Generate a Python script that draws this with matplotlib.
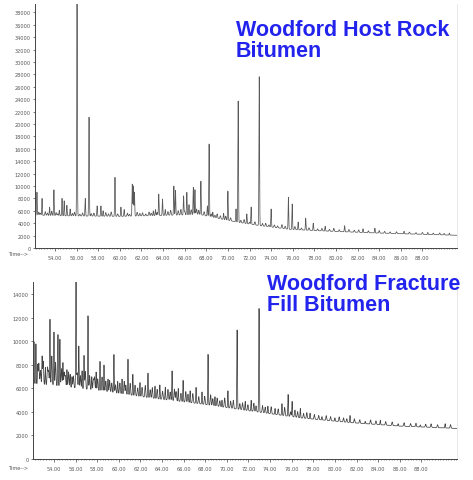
import numpy as np
import matplotlib
matplotlib.use("Agg")
import matplotlib.pyplot as plt
from matplotlib.ticker import MultipleLocator, FuncFormatter

# ---------------- Host rock bitumen (upper trace) ----------------
host_base_t = [52.15, 54.5, 60.0, 63.7, 67.4, 69.3, 71.1, 73.0, 75.8, 79.5, 84.1, 91.2]
host_base_v = [5300, 5200, 5100, 5250, 5400, 4700, 4100, 3600, 3000, 2700, 2400, 2050]

host_peak_t = [52.33, 52.8, 53.5, 53.9, 54.4, 54.65, 54.85, 55.1, 55.4, 56.04,
               56.8, 57.15, 57.9, 58.25, 58.45, 59.55, 60.1, 60.4, 61.15, 61.25,
               61.35, 63.1, 63.3, 63.6, 63.95, 64.2, 65.0, 65.15, 65.9, 66.2,
               66.4, 66.8, 66.95, 67.5, 68.1, 68.26, 68.6, 69.6, 70.0, 70.75,
               70.95, 71.75, 72.15, 72.9, 74.0, 75.6, 75.95, 76.5, 77.2, 77.9,
               79.0, 80.8, 82.5, 83.6, 86.3, 88.5, 90.5]
host_peak_v = [9000, 8000, 6600, 9400, 6100, 8000, 7600, 6900, 6300, 39500,
               8000, 21100, 6800, 6800, 6000, 11400, 6600, 6200, 10300, 10000,
               9000, 6000, 6200, 8700, 7900, 6200, 10000, 9300, 8400, 9000,
               7000, 9800, 9400, 10800, 6800, 16800, 5800, 5600, 9200, 6300,
               23700, 5500, 6600, 27700, 6300, 8200, 7100, 4200, 4800, 4000,
               3500, 3600, 3100, 3200, 2700, 2500, 2400]

host_minor_t = [52.5, 52.65, 53.1, 53.3, 53.7, 54.1, 54.25, 55.6, 55.8, 56.3,
                56.55, 57.35, 57.6, 58.7, 58.95, 59.2, 59.8, 60.7, 60.9, 61.6,
                61.85, 62.1, 62.4, 62.7, 62.9, 63.45, 64.45, 64.7, 65.4, 65.65,
                66.0, 66.6, 67.1, 67.3, 67.8, 68.45, 68.8, 69.0, 69.3, 69.8,
                70.25, 71.2, 71.5, 72.0, 72.5, 73.2, 73.5, 73.8, 74.3, 74.6,
                75.0, 75.3, 76.2, 76.8, 77.5, 78.3, 78.7, 79.4, 79.8, 80.3,
                81.2, 81.7, 82.1, 83.0, 84.0, 84.5, 85.0, 85.6, 86.8, 87.4,
                88.0, 89.0, 89.6, 90.0]
host_minor_a = [500, 350, 600, 400, 700, 500, 300, 400, 600, 300,
                500, 400, 500, 600, 400, 700, 400, 500, 300, 600,
                400, 500, 300, 600, 400, 500, 600, 800, 700, 900,
                600, 800, 900, 700, 600, 500, 400, 700, 500, 600,
                500, 400, 600, 300, 500, 400, 500, 300, 400, 300,
                600, 400, 500, 300, 400, 300, 400, 300, 500, 300,
                400, 300, 400, 300, 400, 300, 250, 300, 300, 250,
                300, 250, 300, 250]

# ---------------- Fracture fill bitumen (lower trace) ----------------
frac_base_t = [52.06, 54.55, 58.3, 62.9, 67.5, 72.1, 76.8, 81.4, 86.0, 91.3]
frac_base_v = [6400, 6200, 5800, 5200, 4700, 4100, 3500, 3100, 2800, 2600]

frac_peak_t = [52.15, 52.33, 52.5, 52.9, 53.2, 53.63, 54.0, 54.37, 54.55, 54.83,
               55.2, 55.5, 55.67, 56.04, 56.3, 56.6, 56.78, 57.15, 57.5, 57.9,
               58.26, 58.63, 59.0, 59.55, 59.9, 60.3, 60.85, 61.3, 61.96, 62.7,
               63.35, 63.8, 64.3, 64.93, 65.5, 65.95, 66.6, 67.15, 67.7, 68.26,
               68.9, 69.55, 70.1, 70.95, 71.7, 72.25, 72.98, 73.8, 74.46, 75.1,
               75.67, 76.04, 76.8, 77.7, 78.8, 80.0, 81.4, 82.8, 84.2, 85.85,
               87.9, 90.2]
frac_peak_v = [10000, 9800, 8000, 8700, 7800, 11900, 10800, 10600, 10200, 8200,
               7600, 7200, 7000, 15500, 9600, 7500, 8800, 12200, 7000, 7400,
               8300, 8000, 6800, 8900, 6600, 6800, 8500, 7200, 6500, 7300,
               6200, 6300, 6100, 7500, 6000, 6700, 5800, 6100, 5700, 8900,
               5300, 5000, 5800, 11000, 4900, 5000, 12800, 4500, 4300, 4700,
               5500, 4900, 4300, 3900, 3600, 3500, 3700, 3200, 3300, 3000,
               2900, 3000]

frac_minor_t = [52.6, 52.75, 53.0, 53.4, 53.5, 53.8, 54.15, 54.7, 54.95, 55.05,
                55.35, 55.8, 56.15, 56.45, 56.9, 57.3, 57.65, 57.75, 58.05, 58.45,
                58.8, 59.15, 59.35, 59.7, 60.1, 60.5, 60.65, 61.05, 61.5, 61.75,
                62.15, 62.45, 62.9, 63.1, 63.55, 64.05, 64.55, 64.75, 65.15, 65.3,
                65.75, 66.2, 66.4, 66.85, 67.4, 67.95, 68.5, 68.7, 69.1, 69.35,
                69.8, 70.35, 70.6, 71.2, 71.45, 71.95, 72.5, 72.7, 73.3, 73.55,
                74.1, 74.75, 75.35, 75.9, 76.3, 76.55, 77.1, 77.4, 78.1, 78.5,
                79.2, 79.6, 80.4, 80.8, 81.1, 81.8, 82.3, 83.3, 83.8, 84.7,
                85.3, 86.4, 87.0, 87.5, 88.4, 88.9, 89.5, 90.7]
frac_minor_a = [1800, 1200, 2000, 1500, 1200, 2500, 2000, 1500, 1200, 900,
                1300, 1000, 1300, 1100, 1500, 1200, 900, 1100, 1000, 1200,
                900, 1000, 800, 700, 900, 1100, 800, 1000, 900, 700,
                800, 1000, 700, 900, 800, 700, 900, 700, 1000, 800,
                700, 900, 700, 800, 600, 700, 900, 600, 700, 500,
                800, 600, 700, 500, 600, 500, 700, 500, 600, 500,
                600, 500, 700, 400, 600, 500, 400, 500, 400, 350,
                400, 350, 400, 350, 300, 350, 300, 350, 300, 300,
                300, 300, 250, 300, 250, 300, 250, 300]

x_ticks = [54, 56, 58, 60, 62, 64, 66, 68, 70, 72, 74, 76, 78, 80, 82, 84, 86, 88]
host_yticks = list(range(0, 38001, 2000))
frac_yticks = list(range(0, 14001, 2000))


def trace(t, base_t, base_v, pk_t, pk_v, mn_t, mn_a, width=0.028):
    base = np.interp(t, base_t, base_v)
    sig = base.copy()
    for pt, pv in zip(pk_t, pk_v):
        amp = pv - np.interp(pt, base_t, base_v)
        sig += amp * np.exp(-0.5 * ((t - pt) / width) ** 2)
    for pt, pa in zip(mn_t, mn_a):
        sig += pa * np.exp(-0.5 * ((t - pt) / (width * 1.4)) ** 2)
    return sig


fig = plt.figure(figsize=(4.73, 4.81), dpi=100)
ink = "#444444"
title_color = "#2323ee"


def style(ax, xlim, ylim, yticks, time_y):
    ax.set_xlim(*xlim)
    ax.set_ylim(*ylim)
    ax.spines["top"].set_visible(False)
    ax.spines["right"].set_color("#e4e4e4")
    ax.spines["right"].set_linewidth(0.6)
    for s in ("left", "bottom"):
        ax.spines[s].set_color(ink)
        ax.spines[s].set_linewidth(0.7)
    ax.set_xticks(x_ticks)
    ax.xaxis.set_minor_locator(MultipleLocator(0.25))
    ax.xaxis.set_major_formatter(FuncFormatter(lambda v, p: f"{v:.2f}"))
    ax.set_yticks(yticks)
    ax.tick_params(axis="both", which="major", labelsize=3.6, colors=ink,
                   length=1.8, width=0.5, pad=1.5)
    ax.tick_params(axis="x", which="minor", length=1.0, width=0.4, colors=ink)
    ax.tick_params(axis="x", labelcolor="#555555", pad=3)
    ax.tick_params(axis="y", labelcolor="#555555")
    fig.text(8 / 473, time_y, "Time-->", fontsize=3.6, color="#555555",
             va="center", ha="left")


title_kw = dict(fontsize=15.5, fontweight="bold", color=title_color,
                family=["Liberation Sans", "DejaVu Sans"], va="center",
                ha="left", linespacing=1.0)

# upper panel
ax1 = fig.add_axes([35 / 473, 1 - 249 / 481, 422 / 473, 244 / 481])
t1 = np.arange(52.15, 91.2, 0.004)
y1 = trace(t1, host_base_t, host_base_v, host_peak_t, host_peak_v,
           host_minor_t, host_minor_a)
ax1.plot(t1, y1, color="#5a5a5a", lw=0.55)
style(ax1, (52.15, 91.2), (0, 39360), host_yticks, 1 - 255 / 481)
fig.text(236 / 473, 1 - 41 / 481, "Woodford Host Rock\nBitumen", **title_kw)

# lower panel
ax2 = fig.add_axes([33 / 473, 1 - 460 / 481, 424 / 473, 177 / 481])
t2 = np.arange(52.06, 91.3, 0.004)
y2 = trace(t2, frac_base_t, frac_base_v, frac_peak_t, frac_peak_v,
           frac_minor_t, frac_minor_a)
ax2.plot(t2, y2, color="#444444", lw=0.55)
style(ax2, (52.06, 91.3), (0, 15060), frac_yticks, 1 - 469 / 481)
fig.text(267 / 473, 1 - 295 / 481, "Woodford Fracture\nFill Bitumen", **title_kw)

fig.savefig("out.png", dpi=100, facecolor="white")
